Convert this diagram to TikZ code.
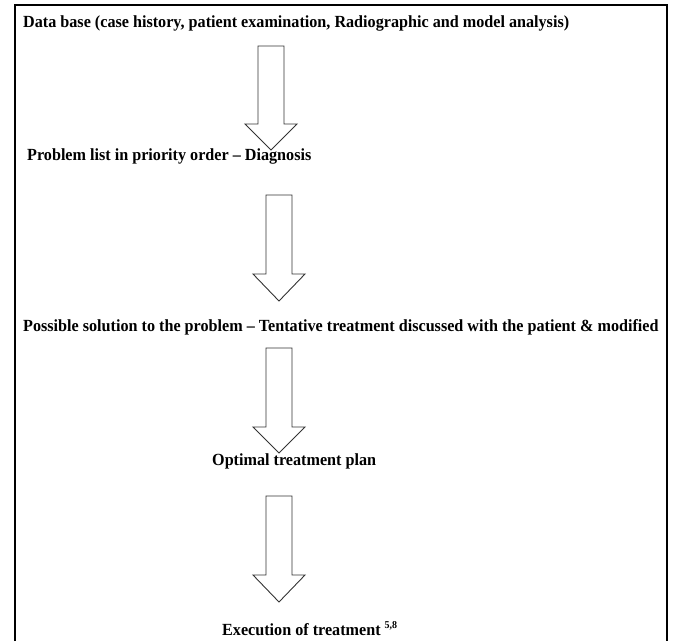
\documentclass[tikz,border=0pt]{standalone}
\usepackage{fontspec}
\setmainfont{Liberation Serif}[FakeStretch=0.95]
\newcommand{\blockarr}[4]{% centre x, top, head base, tip
  \draw[arrline] (#1-13,#2) -- (#1+13,#2) -- (#1+13,#3) -- (#1+26,#3)
    -- (#1,#4) -- (#1-26,#3) -- (#1-13,#3) -- cycle;}
\begin{document}
\begin{tikzpicture}[x=1pt,y=1pt,line join=miter,
	steptext/.style={anchor=base west,inner sep=0pt,font=\fontsize{17}{20}\selectfont\bfseries},
	arrline/.style={draw=black!80,line width=0.9pt}]
	\useasboundingbox (0,0) rectangle (675,-641);
	\draw[line width=1.8pt] (15,-641) -- (15,-5) -- (667,-5) -- (667,-641);
	\node[steptext] (base) at (23,-27) {Data base (case history, patient examination, Radiographic and model analysis)};
	\node[steptext] (prob) at (27,-160) {Problem list in priority order -- Diagnosis};
	\node[steptext] (sol) at (23,-331) {Possible solution to the problem -- Tentative treatment discussed with the patient \& modified};
	\node[steptext] (plan) at (212,-465) {Optimal treatment plan};
	\node[steptext] (exec) at (222,-635) {Execution of treatment \raisebox{7pt}{\fontsize{10.5}{11}\selectfont 5,8}};
	\blockarr{271}{-46}{-124}{-150}
	\blockarr{279}{-195}{-274}{-301}
	\blockarr{279}{-348}{-427}{-453}
	\blockarr{279}{-496}{-575}{-602}
\end{tikzpicture}
\end{document}
